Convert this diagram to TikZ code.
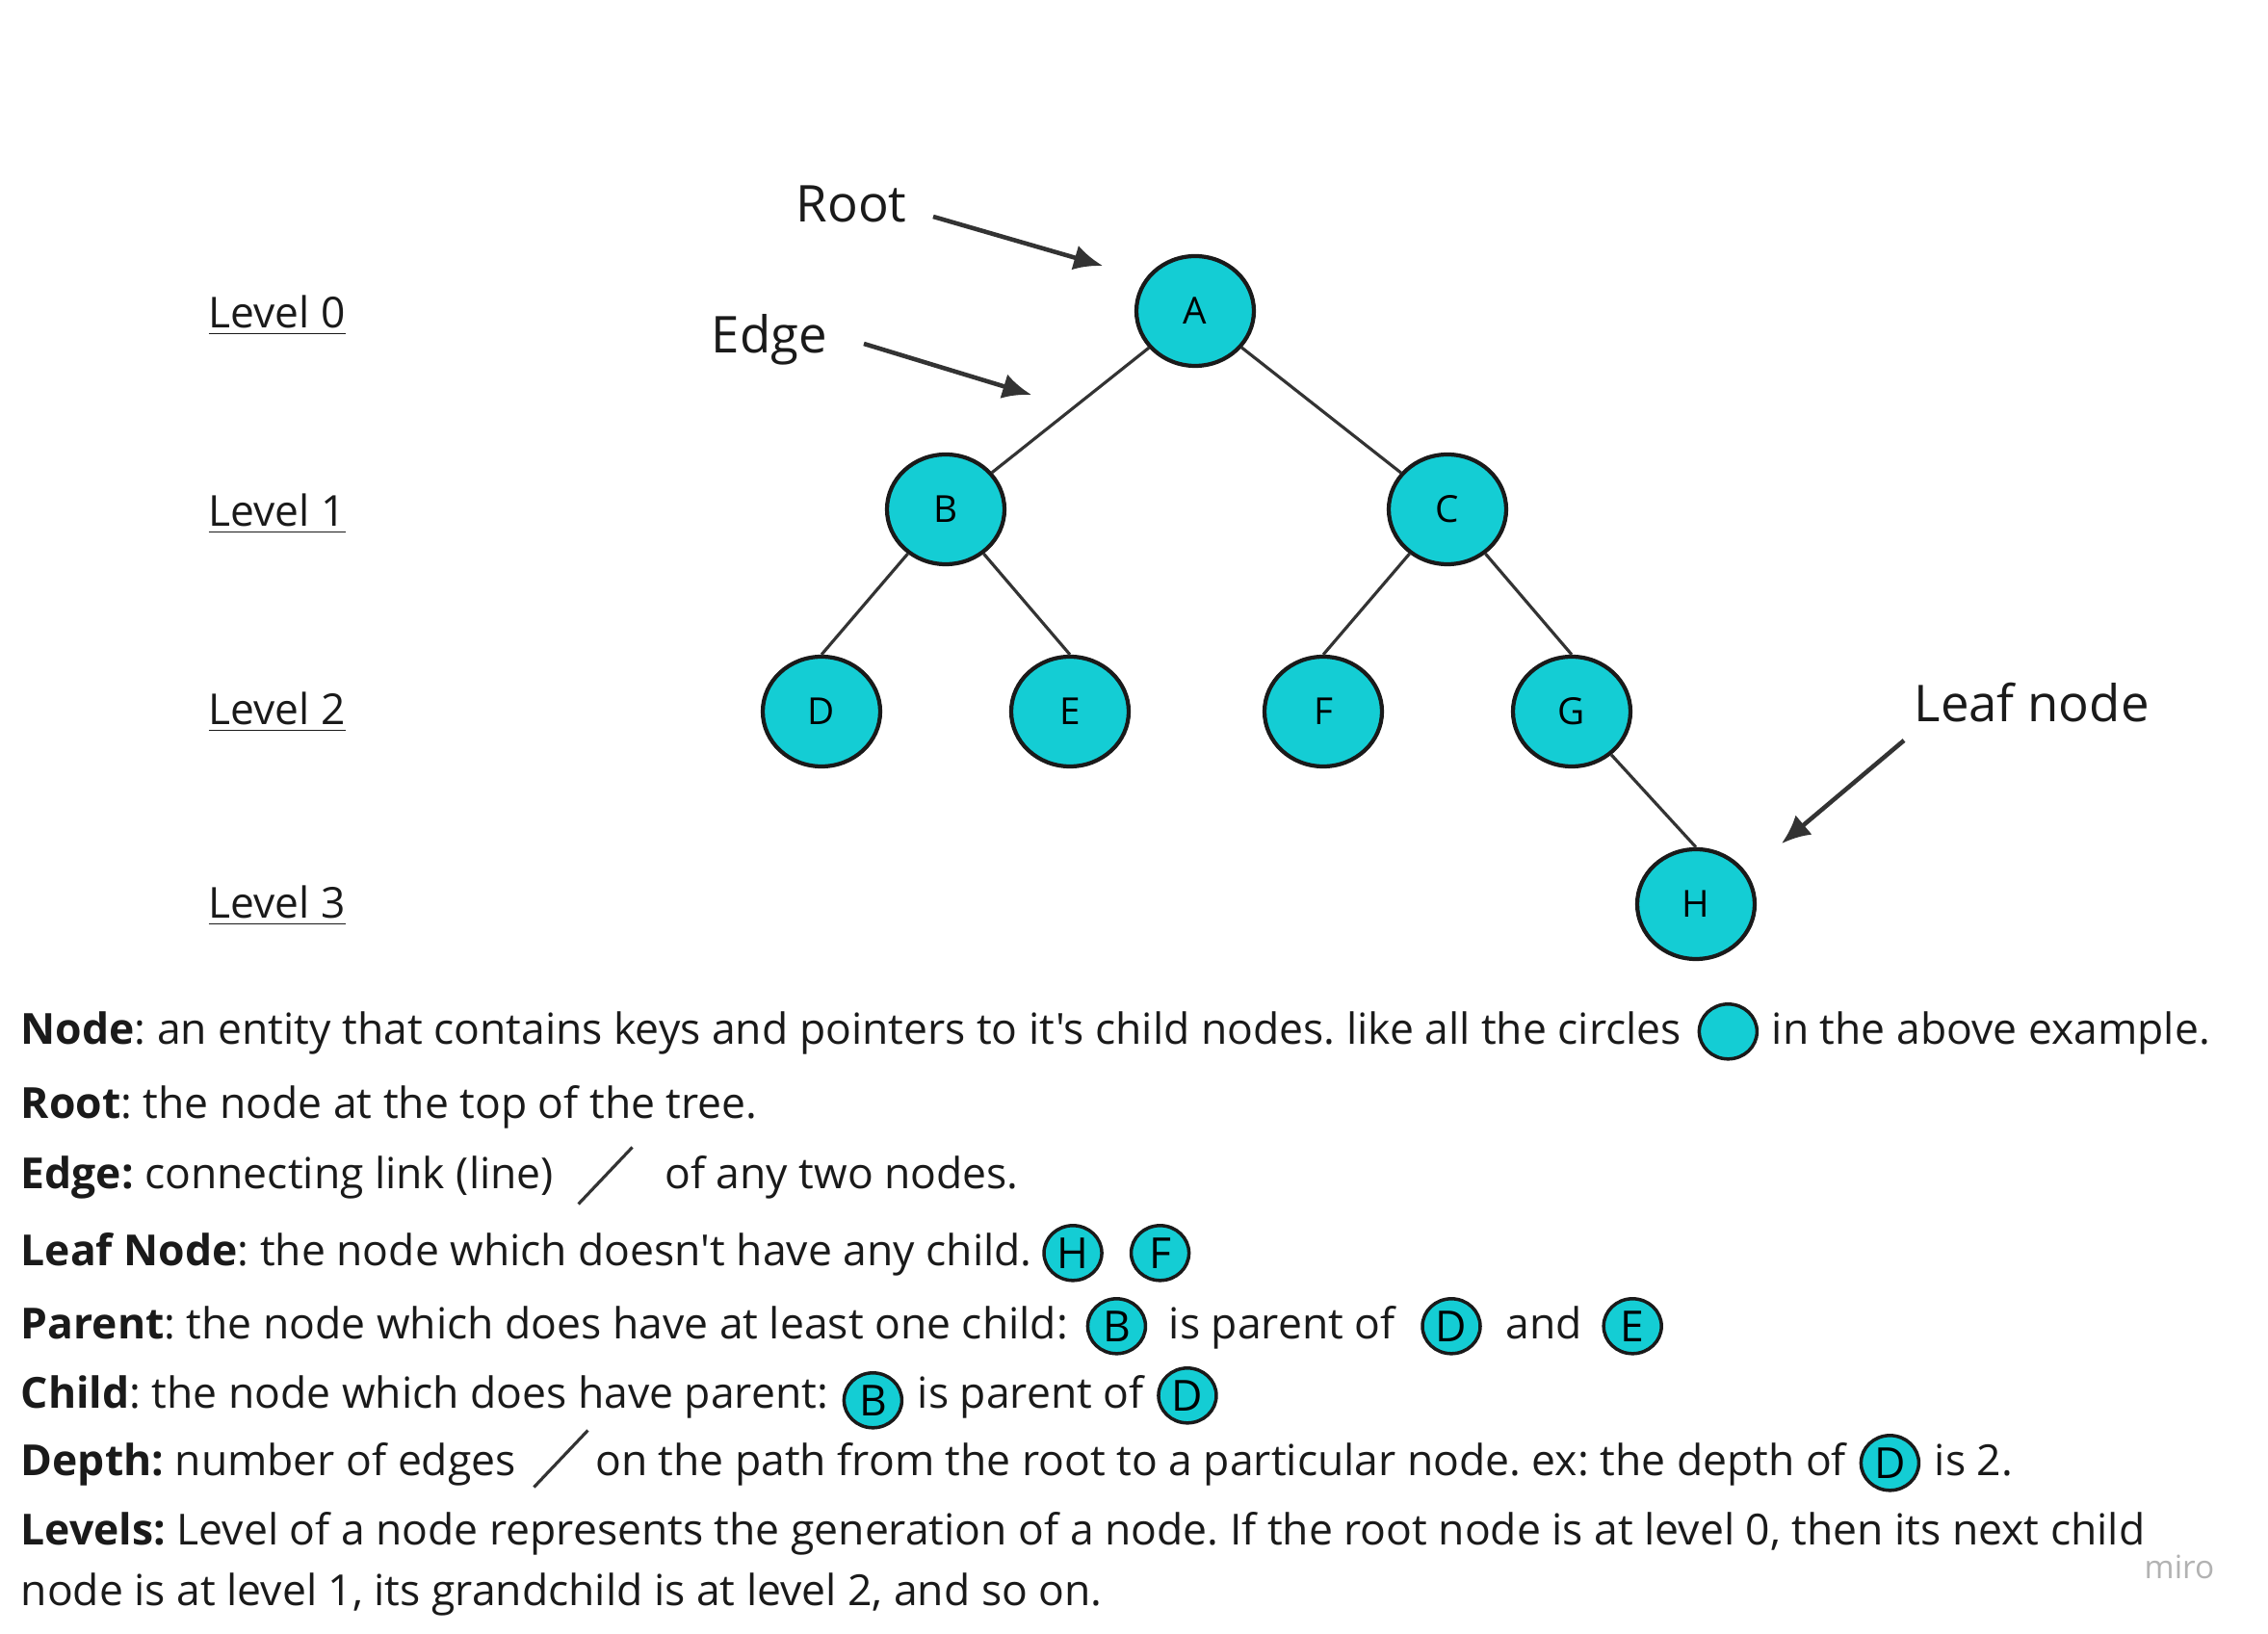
\documentclass[tikz,border=0pt]{standalone}
\usepackage{fontspec}
\setmainfont{Open Sans}[Ligatures=TeXOff]
\usetikzlibrary{positioning,arrows.meta,shapes.geometric}
\frenchspacing

\definecolor{nodefill}{RGB}{20,205,212}
\definecolor{inkline}{RGB}{51,51,51}
\definecolor{inktext}{RGB}{26,26,26}

\tikzset{
  treenode/.style={ellipse,draw=inktext,line width=1.2pt,fill=nodefill,minimum width=1.22cm,minimum height=1.14cm,inner sep=0pt,font=\fontsize{11}{13}\selectfont},
  mininode/.style={ellipse,draw=inktext,line width=1pt,fill=nodefill,minimum width=0.6cm,minimum height=0.57cm,inner sep=0pt,font=\fontsize{12.65}{15}\selectfont},
  desc/.style={inner sep=0pt,text height=1em,text depth=0.25em,text=inktext,font=\fontsize{12.65}{15}\selectfont},
  levellbl/.style={anchor=base west,inner sep=0pt,text=inktext,font=\fontsize{12.6}{15}\selectfont},
  callout/.style={anchor=base west,inner sep=0pt,text=inktext,font=\fontsize{15}{18}\selectfont},
  pointer/.style={draw=inkline,line width=1.3pt,-{Latex[length=8.5pt,width=7.5pt]}},
  branch/.style={draw=inkline,line width=0.9pt},
}

\begin{document}
\begin{tikzpicture}

    \useasboundingbox (0,0) rectangle (23.55,16.97);

    % the tree
    \node[treenode] (A) at (12.41,13.74) {A};
    \node[treenode] (B) at (9.82,11.68) {B};
    \node[treenode] (C) at (15.03,11.68) {C};
    \node[treenode] (D) at (8.53,9.58) {D};
    \node[treenode] (E) at (11.11,9.58) {E};
    \node[treenode] (F) at (13.74,9.58) {F};
    \node[treenode] (G) at (16.32,9.58) {G};
    \node[treenode] (H) at (17.61,7.58) {H};

    \draw[branch] (A) -- (B);
    \draw[branch] (A) -- (C);
    \draw[branch] (B) -- (D.north);
    \draw[branch] (B) -- (E.north);
    \draw[branch] (C) -- (F.north);
    \draw[branch] (C) -- (G.north);
    \draw[branch] (G) -- (H.north);

    \foreach \lv/\ly in {0/13.56,1/11.50,2/9.44,3/7.43}
        \node[levellbl] (level\lv) at (2.16,\ly) {\underline{Level \lv}};

    % callouts
    \node[callout] (rootlbl) at (8.26,14.66) {Root};
    \node[callout] (edgelbl) at (7.38,13.30) {Edge};
    \node[callout] (leaflbl) at (19.87,9.47) {Leaf node};

    \coordinate (roottail) at (9.69,14.72);
    \coordinate (roottip) at (11.45,14.21);
    \coordinate (edgetail) at (8.97,13.40);
    \coordinate (edgetip) at (10.71,12.87);
    \coordinate (leaftail) at (19.77,9.28);
    \coordinate (leaftip) at (18.50,8.21);

    \draw[pointer] (roottail) -- (roottip);
    \draw[pointer] (edgetail) -- (edgetip);
    \draw[pointer] (leaftail) -- (leaftip);

    % definitions
    \node[desc,anchor=base west] (nodetxt) at (0.21,6.125) {\textbf{Node}: an entity that contains keys and pointers to it's child nodes. like all the circles};
    \node[mininode,right=0.16cm of nodetxt] (nodedot) {};
    \node[desc,right=0.13cm of nodedot] (nodetxt2) {in the above example.};

    \node[desc,anchor=base west] (roottxt) at (0.21,5.355) {\textbf{Root}: the node at the top of the tree.};

    \node[desc,anchor=base west] (edgetxt) at (0.21,4.625) {\textbf{Edge:} connecting link (line)};
    \draw[branch] ([xshift=0.25cm,yshift=-0.16cm]edgetxt.base east) coordinate (edgeslashlo) -- ++(0.56,0.59) coordinate (edgeslashhi);
    \node[desc,anchor=base west] (edgetxt2) at ([xshift=0.33cm]edgeslashhi |- edgetxt.base) {of any two nodes.};

    \node[desc,anchor=base west] (leaftxt) at (0.21,3.825) {\textbf{Leaf Node}: the node which doesn't have any child.};
    \node[mininode,right=0.1cm of leaftxt] (leafH) {H};
    \node[mininode,right=0.27cm of leafH] (leafF) {F};

    \node[desc,anchor=base west] (parenttxt) at (0.21,3.065) {\textbf{Parent}: the node which does have at least one child:};
    \node[mininode,right=0.18cm of parenttxt] (parentB) {B};
    \node[desc,right=0.22cm of parentB] (parenttxt2) {is parent of};
    \node[mininode,right=0.26cm of parenttxt2] (parentD) {D};
    \node[desc,right=0.24cm of parentD] (parenttxt3) {and};
    \node[mininode,right=0.2cm of parenttxt3] (parentE) {E};

    \node[desc,anchor=base west] (childtxt) at (0.21,2.345) {\textbf{Child}: the node which does have parent:};
    \node[mininode,right=0.14cm of childtxt,yshift=-0.05cm] (childB) {B};
    \node[desc,anchor=base west] (childtxt2) at ([xshift=0.14cm]childB.east |- childtxt.base) {is parent of};
    \node[mininode,right=0.13cm of childtxt2] (childD) {D};

    \node[desc,anchor=base west] (depthtxt) at (0.21,1.645) {\textbf{Depth:} number of edges};
    \draw[branch] ([xshift=0.18cm,yshift=-0.12cm]depthtxt.base east) coordinate (depthslashlo) -- ++(0.56,0.59) coordinate (depthslashhi);
    \node[desc,anchor=base west] (depthtxt2) at ([xshift=0.07cm]depthslashhi |- depthtxt.base) {on the path from the root to a particular node. ex: the depth of};
    \node[mininode,right=0.13cm of depthtxt2] (depthD) {D};
    \node[desc,right=0.14cm of depthD] (depthtxt3) {is 2.};

    \node[desc,anchor=base west] (levelstxt) at (0.21,0.925) {\textbf{Levels:} Level of a node represents the generation of a node. If the root node is at level 0, then its next child};
    \node[desc,anchor=base west] (levelstxt2) at (0.21,0.295) {node is at level 1, its grandchild is at level 2, and so on.};

    \node[anchor=base,inner sep=0pt,text=black!30,font=\fontsize{9.5}{11}\selectfont] (miro) at (22.63,0.57) {miro};

\end{tikzpicture}
\end{document}
